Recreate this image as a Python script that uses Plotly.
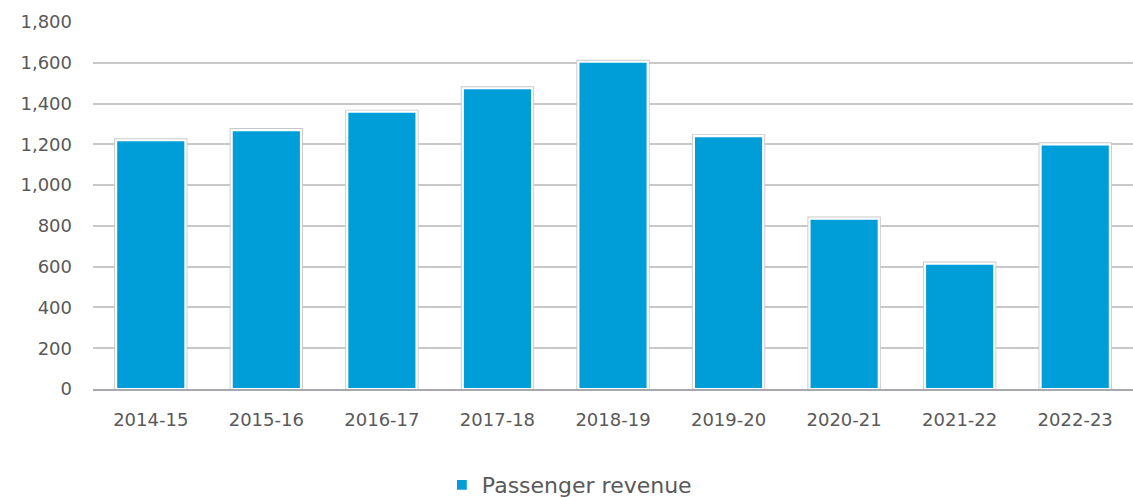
import plotly.graph_objects as go

# Passenger revenue by financial year
years = ["2014-15", "2015-16", "2016-17", "2017-18", "2018-19",
         "2019-20", "2020-21", "2021-22", "2022-23"]
revenue = [1220, 1270, 1360, 1475, 1605, 1240, 836, 615, 1200]

y_ticks = [0, 200, 400, 600, 800, 1000, 1200, 1400, 1600, 1800]
y_tick_text = ["0", "200", "400", "600", "800", "1,000", "1,200", "1,400", "1,600", "1,800"]

BLUE = "#009ed9"
TEXT = "#595959"
FONT = "DejaVu Sans"

fig = go.Figure()

# back layer: thin grey halo around each bar
fig.add_trace(go.Bar(
    x=years, y=revenue, width=0.6,
    marker=dict(color=BLUE, line=dict(color="#c8c8c8", width=4)),
    showlegend=False, hoverinfo="skip",
))
# front layer: the bar with its white border
fig.add_trace(go.Bar(
    x=years, y=revenue, width=0.6, name="Passenger revenue",
    marker=dict(color=BLUE, line=dict(color="white", width=2.2)),
))

fig.update_layout(
    width=1133, height=497,
    margin=dict(l=93, r=0, t=22, b=108),
    paper_bgcolor="white", plot_bgcolor="white",
    barmode="overlay",
    font=dict(family=FONT, color=TEXT, size=18),
    showlegend=True,
    legend=dict(
        orientation="h", xref="container", yref="container",
        x=0.39, y=0.024, xanchor="left", yanchor="middle",
        font=dict(size=22, color=TEXT), itemwidth=30,
    ),
    xaxis=dict(
        showgrid=False, showline=True, linecolor="#a8a8b0", linewidth=2,
        ticks="", ticklabelstandoff=13,
        tickfont=dict(size=18, color=TEXT),
    ),
    yaxis=dict(
        range=[0, 1800], tickvals=y_ticks, ticktext=y_tick_text,
        showgrid=True, gridcolor="#c8c8c8", gridwidth=1.5,
        zeroline=False, showline=False, ticks="",
        ticklabelstandoff=20,
        tickfont=dict(size=18, color=TEXT),
    ),
)

fig.write_html("out.html")
